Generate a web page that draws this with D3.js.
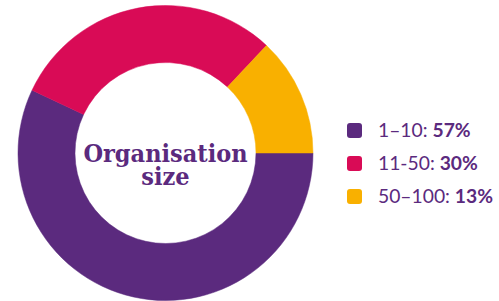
<!DOCTYPE html>
<html>
<head>
<meta charset="utf-8">
<script src="https://cdn.jsdelivr.net/npm/d3@7"></script>
<style>
  body { margin: 0; background: #fff; }
  svg { display: block; }
</style>
</head>
<body>
<div id="org_size_donut"></div>
<script>
// data
var categories = ["1\u201310", "11-50", "50\u2013100"];
var values = [57, 30, 13];
var colours = ["#5b2a7e", "#d90b56", "#f9b000"];
var centre_title = ["Organisation", "size"];

var width = 499, height = 301;
var cx = 165.5, cy = 153;
var outer_r = 147.5, inner_r = 90.5;

var svg = d3.select("#org_size_donut").append("svg")
    .attr("width", width)
    .attr("height", height);

var data = categories.map(function(c, i) {
    return { label: c, value: values[i], colour: colours[i] };
});

// start at 3 o'clock, go clockwise
var pie = d3.pie()
    .sort(null)
    .value(function(d) { return d.value; })
    .startAngle(Math.PI / 2)
    .endAngle(Math.PI / 2 + 2 * Math.PI);

var arc = d3.arc().innerRadius(inner_r).outerRadius(outer_r);

var g = svg.append("g")
    .attr("transform", "translate(" + cx + "," + cy + ")");

g.selectAll(".slice")
    .data(pie(data))
  .enter().append("path")
    .attr("class", "slice")
    .attr("d", arc)
    .attr("fill", function(d) { return d.data.colour; })
    .attr("stroke", function(d) { return d.data.colour; })
    .attr("stroke-width", 0.5);

// centre title, one text block with a line per tspan
g.append("text")
    .attr("class", "centre_title")
    .attr("text-anchor", "middle")
    .style("font-family", "'DejaVu Serif Condensed', 'DejaVu Serif', serif")
    .style("font-stretch", "condensed")
    .style("font-weight", "bold")
    .style("font-size", "25px")
    .style("fill", "#5b2a7e")
  .selectAll("tspan")
    .data(centre_title)
  .enter().append("tspan")
    .attr("x", 0)
    .attr("y", function(d, i) { return 9 + i * 23; })
    .text(function(d) { return d; });

// legend
var legend_y = d3.scaleBand()
    .domain(categories)
    .range([114, 213]);

var legend = svg.selectAll(".legend_row")
    .data(data)
  .enter().append("g")
    .attr("class", "legend_row")
    .attr("transform", function(d) {
        return "translate(347," + (legend_y(d.label) + legend_y.bandwidth() / 2) + ")";
    });

legend.append("rect")
    .attr("x", 0)
    .attr("y", -7.5)
    .attr("width", 15)
    .attr("height", 15)
    .attr("rx", 3)
    .attr("fill", function(d) { return d.colour; });

var legend_text = legend.append("text")
    .attr("x", 31)
    .attr("y", 6.5)
    .style("font-family", "Lato, 'Open Sans', sans-serif")
    .style("font-size", "19.3px")
    .style("fill", "#5b2a7e");

legend_text.append("tspan")
    .text(function(d) { return d.label + ": "; });

legend_text.append("tspan")
    .style("font-weight", "bold")
    .text(function(d) { return d.value + "%"; });
</script>
</body>
</html>
